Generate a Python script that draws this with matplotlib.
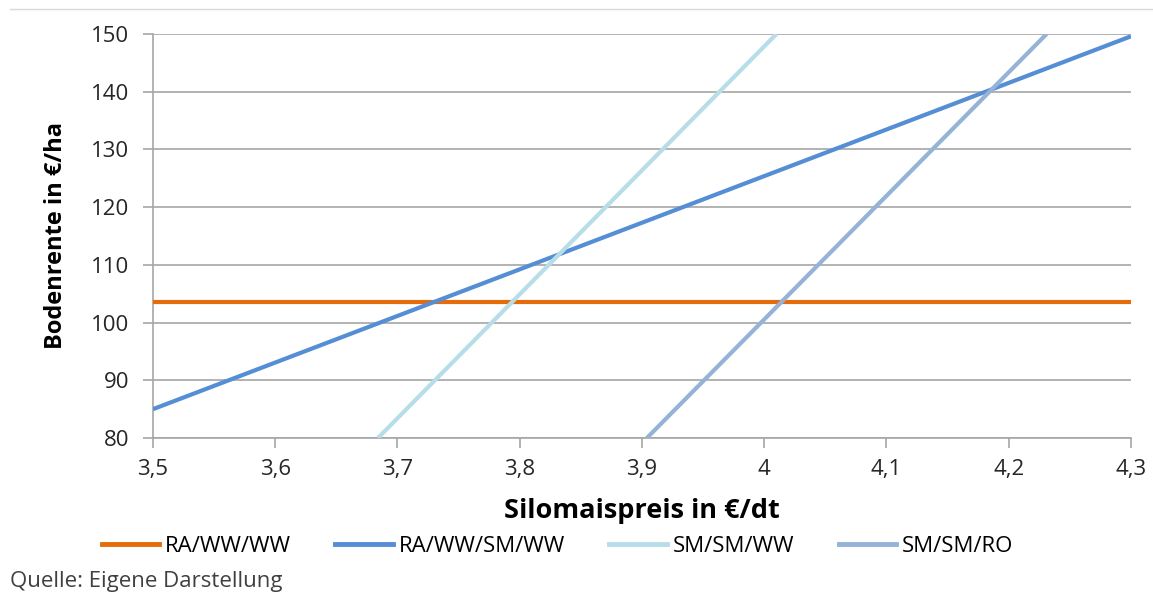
import matplotlib
matplotlib.use("Agg")
from matplotlib import pyplot as plt
from matplotlib.lines import Line2D

plt.rcParams['font.family'] = ['Open Sans', 'DejaVu Sans']

# end points of each line
names = ["RA/WW/WW", "RA/WW/SM/WW", "SM/SM/WW", "SM/SM/RO"]
x_ra_ww_ww = [3.5, 4.3]
y_ra_ww_ww = [103.5, 103.5]
x_ra_ww_sm_ww = [3.5, 4.3]
y_ra_ww_sm_ww = [85.0, 149.6]
x_sm_sm_ww = [3.684, 4.010]
y_sm_sm_ww = [80.0, 150.0]
x_sm_sm_ro = [3.904, 4.231]
y_sm_sm_ro = [80.0, 150.0]
colors = ["#E46C0A", "#558ED5", "#B7DEE8", "#95B3D7"]

xticks = [3.5, 3.6, 3.7, 3.8, 3.9, 4.0, 4.1, 4.2, 4.3]
xticklabels = ["3,5", "3,6", "3,7", "3,8", "3,9", "4", "4,1", "4,2", "4,3"]
yticks = [80, 90, 100, 110, 120, 130, 140, 150]

fig = plt.figure(figsize=(11.53, 5.94), dpi=100)
ax = fig.add_axes([0.1327, 0.2626, 0.8482, 0.6802])

series = [(x_ra_ww_ww, y_ra_ww_ww), (x_ra_ww_sm_ww, y_ra_ww_sm_ww),
          (x_sm_sm_ww, y_sm_sm_ww), (x_sm_sm_ro, y_sm_sm_ro)]
for (xs, ys), c, n in zip(series, colors, names):
    ax.plot(xs, ys, color=c, lw=3, label=n, solid_capstyle='butt', zorder=3)

ax.set_xlim(3.5, 4.3)
ax.set_ylim(80, 150)
ax.set_xticks(xticks)
ax.set_xticklabels(xticklabels)
ax.set_yticks(yticks)
ax.grid(axis='y', color='#a6a6a6', lw=1.2)
ax.set_axisbelow(True)
for s in ['top', 'right']:
    ax.spines[s].set_visible(False)
for s in ['left', 'bottom']:
    ax.spines[s].set_color('#a6a6a6')
    ax.spines[s].set_linewidth(1.2)
ax.tick_params(axis='x', length=7, width=1.2, color='#a6a6a6', pad=8,
               labelsize=16, labelcolor='#262626')
ax.tick_params(axis='y', length=7, width=1.2, color='#a6a6a6', pad=10,
               labelsize=16, labelcolor='#262626')

ax.set_xlabel("Silomaispreis in €/dt", fontsize=19.5, fontweight='bold', labelpad=13)
ax.set_ylabel("Bodenrente in €/ha", fontsize=17, fontweight='bold', labelpad=17)

handles = [Line2D([], [], color=c, lw=3.5) for c in colors]
fig.legend(handles, names, loc='center', bbox_to_anchor=(0.4835, 1 - 546 / 594),
           ncol=4, frameon=False, fontsize=16, handlelength=2.6,
           handletextpad=0.25, columnspacing=2.0)

fig.text(10 / 1153, 1 - 581 / 594, "Quelle: Eigene Darstellung", fontsize=16,
         color='#404040', va='center', ha='left')

# thin rule at the very top
fig.add_artist(Line2D([10 / 1153, 1], [1 - 9 / 594, 1 - 9 / 594], color='#d9d9d9', lw=1))

fig.savefig("out.png", dpi=100)
